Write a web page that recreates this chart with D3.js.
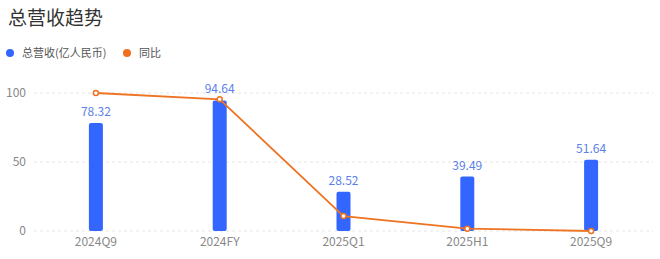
<!DOCTYPE html>
<html>
<head>
<meta charset="utf-8">
<script src="https://cdn.jsdelivr.net/npm/d3@7"></script>
<style>
  body { margin: 0; background: #fff; font-family: "Noto Sans CJK SC", "Noto Sans", sans-serif; }
</style>
</head>
<body>
<div id="chart"></div>
<script>
// data
const categories = ['2024Q9', '2024FY', '2025Q1', '2025H1', '2025Q9']
const revenue = [78.32, 94.64, 28.52, 39.49, 51.64]
const yoy = [100, 95.4, 10.8, 1.7, 0]
const yTicks = [0, 50, 100]

const width = 660
const height = 259
const margin = { top: 93, right: 7, bottom: 28, left: 34 }

const svg = d3.select('#chart')
	.append('svg')
	.attr('width', width)
	.attr('height', height)

// title
svg.append('text')
	.attr('x', 8)
	.attr('y', 25)
	.style('font-size', '19px')
	.attr('fill', '#333')
	.text('总营收趋势')

// legend
const legend = [
	{ name: '总营收(亿人民币)', color: '#3366ff', x: 10 },
	{ name: '同比', color: '#f07020', x: 127 }
]
const lg = svg.append('g')
	.selectAll('g')
	.data(legend)
	.join('g')
	.attr('transform', d => `translate(${d.x},53)`)
lg.append('circle').attr('r', 4).attr('fill', d => d.color)
lg.append('text')
	.attr('x', 12)
	.attr('dy', '0.35em')
	.style('font-size', '11px')
	.attr('fill', '#555')
	.text(d => d.name)

const x = d3.scaleBand()
	.domain(categories)
	.range([margin.left, width - margin.right])

// 100 sits at y=93, 0 at y=231
const y = d3.scaleLinear()
	.domain([0, 100])
	.range([231, 93])

// grid lines
svg.append('g')
	.selectAll('line')
	.data(yTicks)
	.join('line')
	.attr('x1', margin.left)
	.attr('x2', width - margin.right)
	.attr('y1', d => y(d))
	.attr('y2', d => y(d))
	.attr('stroke', '#e6e6e6')
	.attr('stroke-dasharray', '3,3')

// y axis labels
svg.append('g')
	.selectAll('text')
	.data(yTicks)
	.join('text')
	.attr('x', 26)
	.attr('y', d => y(d))
	.attr('dy', '0.35em')
	.attr('text-anchor', 'end')
	.style('font-size', '12px')
	.attr('fill', '#888')
	.text(d => d)

// x axis labels
svg.append('g')
	.selectAll('text')
	.data(categories)
	.join('text')
	.attr('x', d => x(d) + x.bandwidth() / 2)
	.attr('y', 246)
	.attr('text-anchor', 'middle')
	.style('font-size', '12px')
	.attr('fill', '#888')
	.text(d => d)

const barW = 14

// bars
svg.append('g')
	.selectAll('rect')
	.data(revenue)
	.join('rect')
	.attr('x', (d, i) => x(categories[i]) + x.bandwidth() / 2 - barW / 2)
	.attr('y', d => y(d))
	.attr('width', barW)
	.attr('height', d => y(0) - y(d))
	.attr('rx', 2)
	.attr('fill', '#3366ff')

// bar value labels
svg.append('g')
	.selectAll('text')
	.data(revenue)
	.join('text')
	.attr('x', (d, i) => x(categories[i]) + x.bandwidth() / 2)
	.attr('y', d => y(d) - 7)
	.attr('text-anchor', 'middle')
	.style('font-size', '12px')
	.attr('fill', '#5b7fe8')
	.text(d => d.toFixed(2))

// yoy line
const line = d3.line()
	.x((d, i) => x(categories[i]) + x.bandwidth() / 2)
	.y(d => y(d))

svg.append('path')
	.datum(yoy)
	.attr('d', line)
	.attr('fill', 'none')
	.attr('stroke', '#ee7322')
	.attr('stroke-width', 1.8)

svg.append('g')
	.selectAll('circle')
	.data(yoy)
	.join('circle')
	.attr('cx', (d, i) => x(categories[i]) + x.bandwidth() / 2)
	.attr('cy', d => y(d))
	.attr('r', 2.5)
	.attr('fill', '#fff')
	.attr('stroke', '#ee7322')
	.attr('stroke-width', 1.5)
</script>
</body>
</html>
